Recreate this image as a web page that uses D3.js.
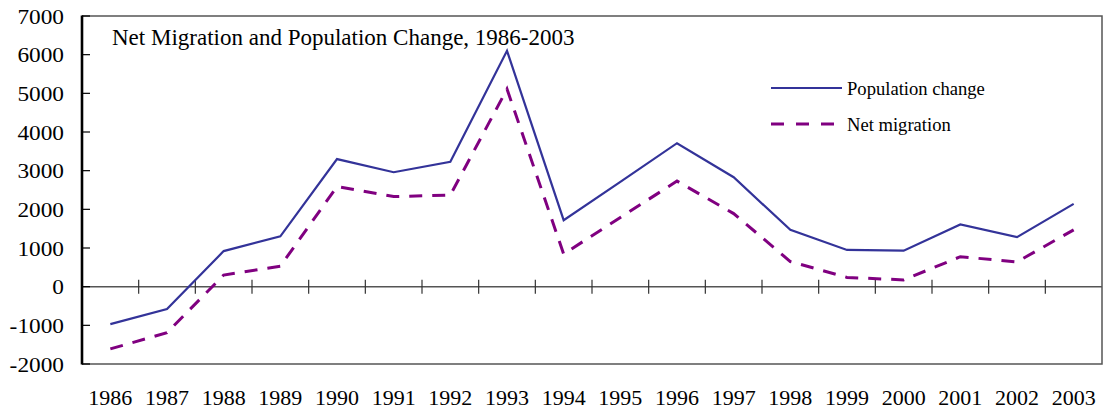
<!DOCTYPE html>
<html>
<head>
<meta charset="utf-8">
<script src="https://cdn.jsdelivr.net/npm/d3@7"></script>
<style>
  html, body { margin: 0; padding: 0; background: #fff; }
  svg { display: block; }
  text { font-family: "Liberation Serif", "Times New Roman", serif; fill: #000; }
</style>
</head>
<body>
<svg id="chart" width="1103" height="411"></svg>
<script>
const years = ["1986","1987","1988","1989","1990","1991","1992","1993","1994","1995","1996","1997","1998","1999","2000","2001","2002","2003"];
const populationChange = [-970, -580, 920, 1300, 3300, 2960, 3230, 6100, 1720, 2710, 3710, 2830, 1470, 950, 930, 1610, 1280, 2140];
const netMigration = [-1610, -1190, 300, 530, 2590, 2330, 2370, 5110, 845, 1790, 2730, 1890, 650, 240, 175, 775, 640, 1470];
const yTicks = [-2000, -1000, 0, 1000, 2000, 3000, 4000, 5000, 6000, 7000];
const titleText = "Net Migration and Population Change, 1986-2003";
const seriesNames = ["Population change", "Net migration"];

const svg = d3.select("#chart");
const L = 82, R = 1102, T = 16, B = 364;

const x = d3.scaleBand().domain(years).range([L, R]).paddingInner(0).paddingOuter(0);
const y = d3.scaleLinear().domain([-2000, 7000]).range([B, T]);
const cx = d => x(d) + x.bandwidth() / 2;

// frame: top, right, bottom
svg.append("path")
  .attr("d", `M${L},${T}H${R}V${B}H${L}`)
  .attr("fill", "none").attr("stroke", "#555").attr("stroke-width", 1.5);

// zero line
svg.append("line")
  .attr("x1", L).attr("x2", R).attr("y1", y(0)).attr("y2", y(0))
  .attr("stroke", "#555").attr("stroke-width", 1.5);

// x ticks on zero line at category boundaries
svg.selectAll(".xtick").data(years.slice(1)).enter().append("line")
  .attr("x1", d => x(d)).attr("x2", d => x(d))
  .attr("y1", y(0) - 7).attr("y2", y(0) + 7)
  .attr("stroke", "#333").attr("stroke-width", 1.2);

// y ticks (inward)
svg.selectAll(".ytick").data(yTicks).enter().append("line")
  .attr("x1", L).attr("x2", L + 8)
  .attr("y1", d => y(d)).attr("y2", d => y(d))
  .attr("stroke", "#000").attr("stroke-width", 1.2);

// left axis
svg.append("line")
  .attr("x1", L).attr("x2", L).attr("y1", T - 0.5).attr("y2", B + 0.5)
  .attr("stroke", "#000").attr("stroke-width", 2.6);

// y labels
svg.selectAll(".ylab").data(yTicks).enter().append("text")
  .attr("transform", d => `translate(64,${y(d) + 7.5}) scale(1.06,1)`)
  .attr("text-anchor", "end")
  .style("font-size", "22px")
  .text(d => d);

// x labels
svg.selectAll(".xlab").data(years).enter().append("text")
  .attr("x", d => cx(d)).attr("y", 405)
  .attr("text-anchor", "middle")
  .style("font-size", "22px")
  .text(d => d);

// lines
const line = d3.line().x((d, i) => cx(years[i])).y(d => y(d));
svg.append("path").datum(populationChange)
  .attr("d", line).attr("fill", "none")
  .attr("stroke", "#333399").attr("stroke-width", 2.2).attr("stroke-linejoin", "miter");
svg.append("path").datum(netMigration)
  .attr("d", line).attr("fill", "none")
  .attr("stroke", "#800080").attr("stroke-width", 3).attr("stroke-dasharray", "13,10");

// title
svg.append("text")
  .attr("x", 112).attr("y", 45)
  .style("font-size", "23px")
  .text(titleText);

// legend
const legend = svg.append("g");
legend.append("line").attr("x1", 771).attr("x2", 842).attr("y1", 88).attr("y2", 88)
  .attr("stroke", "#333399").attr("stroke-width", 2.2);
legend.append("text").attr("x", 847).attr("y", 95).style("font-size", "18.6px").text(seriesNames[0]);
legend.append("line").attr("x1", 771).attr("x2", 842).attr("y1", 124).attr("y2", 124)
  .attr("stroke", "#800080").attr("stroke-width", 3).attr("stroke-dasharray", "13,12");
legend.append("text").attr("x", 847).attr("y", 131).style("font-size", "18.6px").text(seriesNames[1]);
</script>
</body>
</html>
